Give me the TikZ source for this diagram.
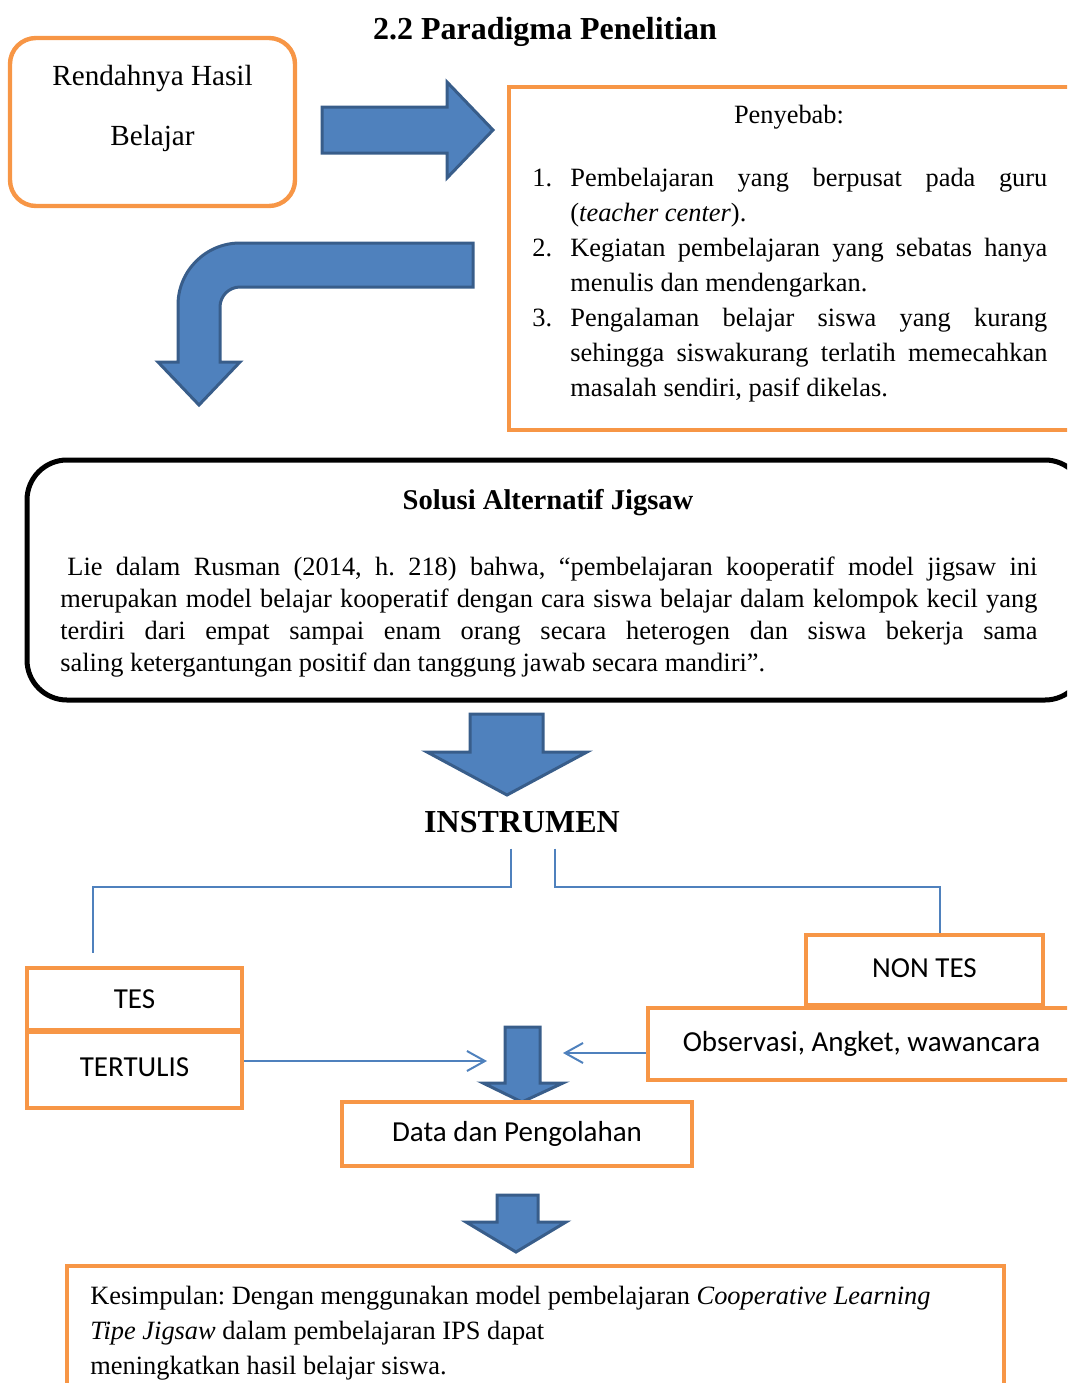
\documentclass[tikz,border=0pt]{standalone}
\usepackage{fontspec}
\setmainfont{Liberation Serif}
\setsansfont{Carlito}
\usetikzlibrary{arrows.meta,calc,positioning}
\definecolor{boxorange}{HTML}{F79646}
\definecolor{arrowblue}{HTML}{4F81BD}
\definecolor{arrowedge}{HTML}{385D8A}
\newcommand{\causeitem}[2]{\par\noindent\hangindent=19pt\hangafter=1\makebox[19pt][l]{#1}#2\par}
\frenchspacing

\begin{document}
\begin{tikzpicture}[x=0.5pt,y=-0.5pt,
  obox/.style={draw=boxorange,line width=2.2pt,inner sep=0pt},
  blockarrow/.style={fill=arrowblue,draw=arrowedge,line width=1.5pt},
  link/.style={draw=arrowblue,line width=1pt},
  barb/.style={-{Straight Barb[length=9pt,width=10pt]}},
  serif/.style={font=\fontsize{13.2}{17.5}\selectfont,inner sep=0pt},
  sanslbl/.style={font=\sffamily\fontsize{14.5}{17}\selectfont},
  heading/.style={font=\bfseries\fontsize{16}{19}\selectfont,inner sep=0pt}]
  \useasboundingbox (0,0) rectangle (1067,1383);
  \clip (0,0) rectangle (1067,1383);
  \node[heading] (title) at (545,32) {2.2 Paradigma Penelitian};
  % masalah dan penyebab
  \node[obox,rounded corners=13pt,minimum width=142.5pt,minimum height=84pt] (rendah) at (152.5,122) {};
  \node[align=center,font=\fontsize{14.6}{30}\selectfont,inner sep=0pt] (rendahtxt) at (152.5,108) {Rendahnya Hasil\\Belajar};
  \path[blockarrow] (322,107) -- (447,107) -- (447,82) -- (493,130) -- (447,178) -- (447,153) -- (322,153) -- cycle;
  \node[obox,minimum width=285.5pt,minimum height=171.5pt] (sebab) at (794.5,258.5) {};
  \node[serif] (sebabjudul) at (789,117) {Penyebab:};
  \node[serif,anchor=north west,text width=257.5pt,align=justify] (sebablist) at (532,151) {%
    \causeitem{1.}{Pembelajaran yang berpusat pada guru \linebreak(\textit{teacher center}).}
    \causeitem{2.}{Kegiatan pembelajaran yang sebatas hanya \linebreak menulis dan mendengarkan.}
    \causeitem{3.}{Pengalaman belajar siswa yang kurang \linebreak sehingga siswakurang terlatih memecahkan \linebreak masalah sendiri, pasif dikelas.}};
  \path[blockarrow] (473,243) -- (240,243) .. controls (205.8,243) and (178,270.8) .. (178,305)
    -- (178,362) -- (158,362) -- (199,405) -- (240,362) -- (220,362) -- (220,307)
    .. controls (220,296) and (229,287) .. (240,287) -- (473,287) -- cycle;
  % solusi
  \node[draw=black,line width=2.5pt,rounded corners=20pt,minimum width=529pt,minimum height=120pt] (solusi) at (556,580) {};
  \node[font=\bfseries\fontsize{14.3}{17}\selectfont,inner sep=0pt] (solusijudul) at (548,503) {Solusi Alternatif Jigsaw};
  \node[serif,font=\fontsize{13.2}{16}\selectfont,anchor=north west,text width=488.5pt,align=justify] (solusiisi) at (60,557) {%
    \hspace*{3.5pt}Lie dalam Rusman (2014, h. 218) bahwa, “pembelajaran kooperatif model jigsaw ini \linebreak
    merupakan model belajar kooperatif dengan cara siswa belajar dalam kelompok kecil yang \linebreak
    terdiri dari empat sampai enam orang secara heterogen dan siswa bekerja sama \linebreak
    saling ketergantungan positif dan tanggung jawab secara mandiri”.};
  \path[blockarrow] (470,714) -- (543,714) -- (543,752) -- (587,752) -- (507,795) -- (427,752) -- (470,752) -- cycle;
  % instrumen
  \node[heading] (instr) at (522,822) {INSTRUMEN};
  \node[obox,sanslbl,minimum width=107.5pt,minimum height=31pt] (tes) at (134.5,999) {TES};
  \node[obox,sanslbl,minimum width=107.5pt,minimum height=38pt] (tertulis) at (134.5,1070) {\raisebox{2.5pt}{TERTULIS}};
  \node[obox,sanslbl,minimum width=118.5pt,minimum height=35pt] (nontes) at (924.5,970) {\raisebox{1.5pt}{NON TES}};
  \node[obox,sanslbl,minimum width=213.5pt,minimum height=36pt] (observasi) at (861.5,1044) {\raisebox{1pt}{Observasi, Angket, wawancara}};
  \draw[link] ([xshift=-5.5pt,yshift=-7.75pt]instr.south) -- ++(0,38) -| ([xshift=-20.75pt,yshift=6.5pt]tes.north);
  \draw[link] ([xshift=16.5pt,yshift=-7.75pt]instr.south) -- ++(0,38) -| ([xshift=7.75pt]nontes.north);
  % data
  \path[blockarrow] (505,1027) -- (540,1027) -- (540,1083) -- (563,1083) -- (522,1102) -- (483,1083) -- (505,1083) -- cycle;
  \node[obox,sanslbl,minimum width=175pt,minimum height=32pt] (olah) at (517,1134) {\raisebox{-1pt}{Data dan Pengolahan}};
  \coordinate (masuktes) at (487,1061);
  \coordinate (masuknon) at (563,1053);
  \draw[link,barb] (tertulis.east |- masuktes) -- (masuktes);
  \draw[link,barb] (observasi.west |- masuknon) -- (masuknon);
  % kesimpulan
  \path[blockarrow] (497,1195) -- (538,1195) -- (538,1222) -- (566,1222) -- (516,1252) -- (466,1222) -- (497,1222) -- cycle;
  \node[obox,minimum width=468.5pt,minimum height=70pt] (simpul) at (535.5,1336) {};
  \node[serif,anchor=north west,align=left] (simpultxt) at (90,1286) {Kesimpulan: Dengan menggunakan model pembelajaran \textit{Cooperative Learning}\\\textit{Tipe Jigsaw} dalam pembelajaran IPS dapat\\meningkatkan hasil belajar siswa.};
\end{tikzpicture}
\end{document}
